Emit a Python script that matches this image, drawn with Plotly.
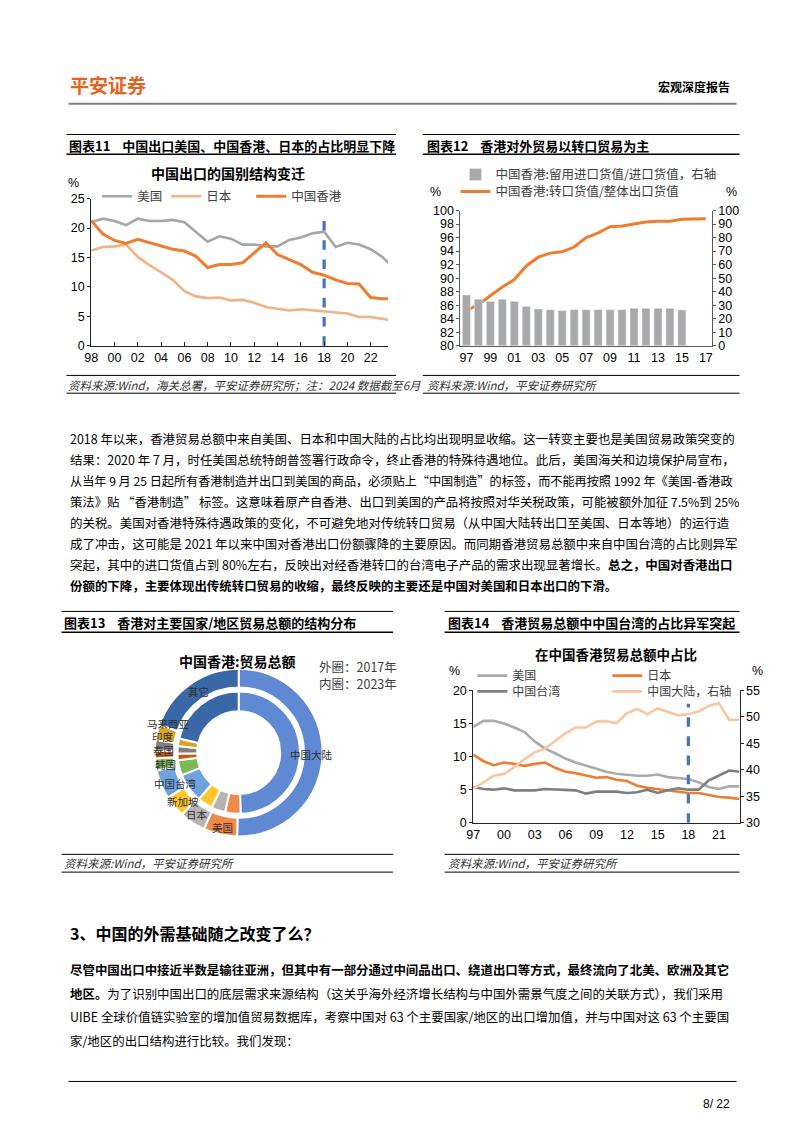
import plotly.graph_objects as go

# Page is 802x1133; the figure sits inside the default 8px body margin.
PAGE_W, PAGE_H, OFF = 802, 1133, 8
W, H = PAGE_W - 2 * OFF, PAGE_H - 2 * OFF
def X(p): return (p - OFF) / W
def Y(p): return 1 - (p - OFF) / H

# ---------------- Chart 11 data ----------------
years11 = [1998, 1999, 2000, 2001, 2002, 2003, 2004, 2005, 2006, 2007, 2008, 2009, 2010,
           2011, 2012, 2013, 2014, 2015, 2016, 2017, 2018, 2019, 2020, 2021, 2022, 2023, 2023.5]
us11 = [21.0, 21.6, 21.2, 20.5, 21.6, 21.2, 21.2, 21.4, 21.0, 19.4, 17.7, 18.6, 18.2, 17.2,
        17.2, 16.9, 16.9, 18.0, 18.4, 19.1, 19.4, 16.8, 17.5, 17.2, 16.4, 15.1, 14.1]
jp11 = [16.2, 16.8, 16.9, 17.2, 15.1, 13.7, 12.5, 11.2, 9.3, 8.4, 8.1, 8.2, 7.7, 7.8,
        7.3, 6.6, 6.3, 6.0, 6.2, 6.0, 5.9, 5.7, 5.5, 4.9, 4.9, 4.6, 4.4]
hk11 = [21.3, 19.0, 17.9, 17.4, 18.1, 17.5, 16.9, 16.4, 16.1, 15.2, 13.3, 13.8, 13.8, 14.1,
        15.8, 17.5, 15.5, 14.7, 13.8, 12.5, 12.0, 11.2, 10.6, 10.5, 8.2, 8.0, 8.0]
ticks11 = [1998, 2000, 2002, 2004, 2006, 2008, 2010, 2012, 2014, 2016, 2018, 2020, 2022]
ticktext11 = ["98", "00", "02", "04", "06", "08", "10", "12", "14", "16", "18", "20", "22"]
mark_year = 2018

# ---------------- Chart 12 data ----------------
cats12 = ["97", "98", "99", "00", "01", "02", "03", "04", "05", "06", "07", "08", "09",
          "10", "11", "12", "13", "14", "15", "16", "17"]
retained12 = [37.6, 34.5, 32.8, 34.5, 32.8, 29.1, 27.2, 26.7, 26.0, 26.7, 26.7, 26.7, 26.7,
              26.7, 27.7, 27.7, 27.7, 27.7, 26.5, None, None]
reexport12 = [85.2, 86.1, 87.4, 88.7, 89.8, 91.8, 93.1, 93.7, 93.9, 94.6, 96.0, 96.7, 97.6,
              97.7, 98.0, 98.3, 98.4, 98.4, 98.7, 98.7, 98.8]
ticks12 = ["97", "99", "01", "03", "05", "07", "09", "11", "13", "15", "17"]

# ---------------- Chart 13 data ----------------
partners13 = ["中国大陆", "美国", "日本", "新加坡", "中国台湾", "韩国", "泰国", "印度", "马来西亚", "其它"]
outer2017 = [50.3, 6.5, 5.0, 4.2, 5.6, 2.3, 1.5, 2.0, 3.0, 19.6]
inner2023 = [49.5, 4.1, 3.7, 4.0, 7.7, 4.0, 1.8, 1.9, 2.0, 21.3]
colors13 = ["#5F8AD3", "#F08A4B", "#B4B4B4", "#FFC72C", "#6FA3DC", "#7DB957",
            "#C55A11", "#7F7F7F", "#D9A520", "#3A67A8"]

# ---------------- Chart 14 data ----------------
years14 = [1997, 1998, 1999, 2000, 2001, 2002, 2003, 2004, 2005, 2006, 2007, 2008, 2009, 2010,
           2011, 2012, 2013, 2014, 2015, 2016, 2017, 2018, 2019, 2020, 2021, 2022, 2023]
us14 = [14.5, 15.4, 15.4, 15.0, 14.4, 13.7, 12.3, 11.2, 10.5, 9.7, 9.1, 8.6, 8.1, 7.7,
        7.4, 7.2, 7.1, 7.1, 7.3, 6.9, 6.7, 6.6, 6.1, 5.4, 5.1, 5.5, 5.5]
jp14 = [10.3, 9.3, 8.7, 9.1, 8.9, 8.6, 8.9, 9.1, 8.3, 7.7, 7.5, 7.2, 6.8, 6.9,
        6.5, 6.3, 5.6, 5.3, 5.1, 4.9, 4.7, 4.5, 4.5, 4.2, 3.9, 3.8, 3.6]
tw14 = [5.4, 5.1, 5.0, 5.2, 4.9, 4.9, 4.9, 5.1, 5.0, 5.0, 4.9, 4.4, 4.7, 4.7,
        4.7, 4.5, 4.6, 5.0, 4.5, 4.9, 5.2, 5.0, 5.0, 6.4, 7.1, 7.9, 7.7]
cn14 = [36.4, 37.6, 38.9, 39.2, 40.5, 42.0, 43.3, 44.0, 45.4, 46.9, 48.0, 48.0, 49.1, 49.2,
        48.8, 50.7, 51.5, 50.5, 51.6, 51.0, 50.3, 50.5, 51.0, 52.1, 52.6, 49.4, 49.5]
ticks14 = [1997, 2000, 2003, 2006, 2009, 2012, 2015, 2018, 2021]
ticktext14 = ["97", "00", "03", "06", "09", "12", "15", "18", "21"]

# ---------------- Styles ----------------
CJK = "Noto Sans CJK SC"
NUM = "Liberation Sans, Noto Sans CJK SC"
BLUE = "#4472C4"
ORANGE = "#ED7D31"

fig = go.Figure()

# Chart 11 traces
fig.add_trace(go.Scatter(x=years11, y=us11, name="美国", mode="lines",
                         line=dict(color="#A6A6A6", width=2.6), xaxis="x", yaxis="y", legend="legend"))
fig.add_trace(go.Scatter(x=years11, y=jp11, name="日本", mode="lines", legendwidth=40,
                         line=dict(color="#F4B183", width=2.6), xaxis="x", yaxis="y", legend="legend"))
fig.add_trace(go.Scatter(x=years11, y=hk11, name="中国香港", mode="lines", legendwidth=60,
                         line=dict(color=ORANGE, width=3), xaxis="x", yaxis="y", legend="legend"))
fig.add_trace(go.Scatter(x=[mark_year, mark_year], y=[0, 22.6], mode="lines", showlegend=False,
                         line=dict(color=BLUE, width=3.2, dash="dash"), xaxis="x", yaxis="y"))

# Chart 12 traces
fig.add_trace(go.Bar(x=cats12, y=retained12, name="中国香港:留用进口货值/进口货值，右轴",
                     marker=dict(color="#A9A9A9"), xaxis="x2", yaxis="y3", legend="legend2"))
fig.add_trace(go.Scatter(x=cats12, y=reexport12, name="中国香港:转口货值/整体出口货值", mode="lines",
                         line=dict(color=ORANGE, width=3), xaxis="x2", yaxis="y2", legend="legend3"))

# Chart 13 donut
R_OUT, R_IN = 85, 62
CX, CY = 234, 755
fig.add_trace(go.Pie(labels=partners13, values=outer2017, sort=False, direction="clockwise",
                     rotation=0, hole=66 / 85, textinfo="none", showlegend=False,
                     marker=dict(colors=colors13, line=dict(color="white", width=2)),
                     domain=dict(x=[X(CX - R_OUT), X(CX + R_OUT)], y=[Y(CY + R_OUT), Y(CY - R_OUT)])))
fig.add_trace(go.Pie(labels=partners13, values=inner2023, sort=False, direction="clockwise",
                     rotation=0, hole=42 / 62, textinfo="none", showlegend=False,
                     marker=dict(colors=colors13, line=dict(color="white", width=2)),
                     domain=dict(x=[X(CX - R_IN), X(CX + R_IN)], y=[Y(CY + R_IN), Y(CY - R_IN)])))

# Chart 14 traces
fig.add_trace(go.Scatter(x=years14, y=us14, name="美国", mode="lines",
                         line=dict(color="#ABABAB", width=2.6), xaxis="x3", yaxis="y4", legend="legend4"))
fig.add_trace(go.Scatter(x=years14, y=jp14, name="日本", mode="lines", legendwidth=60,
                         line=dict(color=ORANGE, width=2.6), xaxis="x3", yaxis="y4", legend="legend4"))
fig.add_trace(go.Scatter(x=years14, y=tw14, name="中国台湾", mode="lines",
                         line=dict(color="#7F7F7F", width=2.6), xaxis="x3", yaxis="y4", legend="legend5"))
fig.add_trace(go.Scatter(x=years14, y=cn14, name="中国大陆，右轴", mode="lines", legendwidth=96,
                         line=dict(color="#F8C6A2", width=2.6), xaxis="x3", yaxis="y5", legend="legend5"))
fig.add_trace(go.Scatter(x=[mark_year, mark_year], y=[0, 18], mode="lines", showlegend=False,
                         line=dict(color=BLUE, width=3.2, dash="dash"), xaxis="x3", yaxis="y4"))

tickfont = dict(family=NUM, size=12.5, color="#000000")

layout = dict(
    width=W, height=H, margin=dict(l=0, r=0, t=0, b=0),
    paper_bgcolor="white", plot_bgcolor="rgba(0,0,0,0)",
    font=dict(family=NUM, size=12, color="#000000"),
    bargap=0.33,
    # chart 11
    xaxis=dict(domain=[X(85), X(385)], range=[1998, 2023.5], tickvals=ticks11, ticktext=ticktext11,
               showline=True, linecolor="#262626", linewidth=1, ticks="inside", ticklen=4,
               tickcolor="#262626", showgrid=False, zeroline=False, tickfont=tickfont, anchor="y"),
    yaxis=dict(domain=[Y(343), Y(194)], range=[0, 25], dtick=5, showline=True, linecolor="#262626",
               linewidth=1, ticks="outside", ticklen=3, tickcolor="#262626", showgrid=False,
               zeroline=False, tickfont=tickfont, anchor="x"),
    # chart 12
    xaxis2=dict(domain=[X(458), X(712)], type="category", categoryorder="array", categoryarray=cats12,
                tickvals=ticks12, showline=True, linecolor="#595959", linewidth=1, ticks="",
                showgrid=False, zeroline=False, tickfont=tickfont, anchor="y2"),
    yaxis2=dict(domain=[Y(343), Y(206)], range=[80, 100], dtick=2, showline=True, linecolor="#595959",
                linewidth=1, ticks="outside", ticklen=3, tickcolor="#595959", showgrid=False,
                zeroline=False, tickfont=tickfont, anchor="x2"),
    yaxis3=dict(range=[0, 100], dtick=10, overlaying="y2", side="right", showline=True,
                linecolor="#595959", linewidth=1, ticks="outside", ticklen=3, tickcolor="#595959",
                showgrid=False, zeroline=False, tickfont=tickfont, anchor="x2"),
    # chart 14
    xaxis3=dict(domain=[X(471), X(740)], range=[1997, 2023], tickvals=ticks14, ticktext=ticktext14,
                showline=True, linecolor="#262626", linewidth=1, ticks="", showgrid=False,
                zeroline=False, tickfont=tickfont, anchor="y4"),
    yaxis4=dict(domain=[Y(826), Y(692)], range=[0, 20], dtick=5, showline=True, linecolor="#262626",
                linewidth=1, ticks="outside", ticklen=3, tickcolor="#262626", showgrid=False,
                zeroline=False, tickfont=tickfont, anchor="x3"),
    yaxis5=dict(range=[30, 55], dtick=5, overlaying="y4", side="right", showline=True,
                linecolor="#262626", linewidth=1, ticks="outside", ticklen=3, tickcolor="#262626",
                showgrid=False, zeroline=False, tickfont=tickfont, anchor="x3"),
)

legfont = dict(family=CJK, size=12.5, color="#404040")
legfont14 = dict(family=CJK, size=12, color="#404040")
layout["legend"] = dict(orientation="h", x=X(91), y=Y(192), xanchor="left", yanchor="middle",
                        entrywidth=24, entrywidthmode="pixels", font=legfont,
                        bgcolor="rgba(0,0,0,0)")
layout["legend2"] = dict(orientation="h", x=X(453), y=Y(170), xanchor="left", yanchor="middle",
                         font=legfont, bgcolor="rgba(0,0,0,0)")
layout["legend3"] = dict(orientation="h", x=X(453), y=Y(187), xanchor="left", yanchor="middle",
                         font=legfont, bgcolor="rgba(0,0,0,0)")
layout["legend4"] = dict(orientation="h", x=X(470), y=Y(677), xanchor="left", yanchor="middle",
                         entrywidth=90, entrywidthmode="pixels", font=legfont14, bgcolor="rgba(0,0,0,0)")
layout["legend5"] = dict(orientation="h", x=X(470), y=Y(693), xanchor="left", yanchor="middle",
                         entrywidth=90, entrywidthmode="pixels", font=legfont14, bgcolor="rgba(0,0,0,0)")

fig.update_layout(**layout)

ann = []
def text(x, y, s, size=13, color="#000000", anchor="left", family=CJK):
    ann.append(dict(x=X(x), y=Y(y), xref="paper", yref="paper", text=s, showarrow=False,
                    xanchor=anchor, yanchor="middle", font=dict(family=family, size=size, color=color)))

# header
text(62, 78, "<b>平安证券</b>", size=19, color="#E3631E")
text(732, 80, "<b>宏观深度报告</b>", size=12, anchor="right")

# section titles
text(61, 140, "<b>图表11    中国出口美国、中国香港、日本的占比明显下降</b>", size=13)
text(422, 140, "<b>图表12    香港对外贸易以转口贸易为主</b>", size=13)
text(55, 623, "<b>图表13    香港对主要国家/地区贸易总额的结构分布</b>", size=13)
text(443, 623, "<b>图表14    香港贸易总额中中国台湾的占比异军突起</b>", size=13)

# chart titles / units
text(223, 168, "<b>中国出口的国别结构变迁</b>", size=14, anchor="center")
text(67, 178, "%", size=12.5, anchor="center", family=NUM)
text(433, 187, "%", size=12.5, anchor="center", family=NUM)
text(732, 187, "%", size=12.5, anchor="center", family=NUM)
text(233, 662, "<b>中国香港:贸易总额</b>", size=14, anchor="center")
text(313, 668, "外圈：2017年", size=12.5, color="#404040")
text(313, 685, "内圈：2023年", size=12.5, color="#404040")
text(615, 655, "<b>在中国香港贸易总额中占比</b>", size=13.5, anchor="center")
text(452, 672, "%", size=12.5, anchor="center", family=NUM)
text(758, 672, "%", size=12.5, anchor="center", family=NUM)

# donut labels
for s, lx, ly in [("其它", 193, 693), ("马来西亚", 163, 725), ("印度", 158, 739), ("泰国", 158, 753),
                  ("韩国", 160, 767), ("中国台湾", 170, 786), ("新加坡", 178, 804), ("日本", 192, 818),
                  ("美国", 218, 831), ("中国大陆", 308, 757)]:
    text(lx, ly, s, size=10.5, color="#303030", anchor="center")

# sources
text(60, 383, "<i>资料来源:Wind，海关总署，平安证券研究所；注：2024 数据截至6月</i>", size=11.5, color="#333333")
text(422, 383, "<i>资料来源:Wind，平安证券研究所</i>", size=11.5, color="#333333")
text(55, 867, "<i>资料来源:Wind，平安证券研究所</i>", size=11.5, color="#333333")
text(443, 867, "<i>资料来源:Wind，平安证券研究所</i>", size=11.5, color="#333333")

# body paragraph 1
para1 = [
    "2018 年以来，香港贸易总额中来自美国、日本和中国大陆的占比均出现明显收缩。这一转变主要也是美国贸易政策突变的",
    "结果：2020 年 7 月，时任美国总统特朗普签署行政命令，终止香港的特殊待遇地位。此后，美国海关和边境保护局宣布，",
    "从当年 9 月 25 日起所有香港制造并出口到美国的商品，必须贴上“中国制造”的标签，而不能再按照 1992 年《美国-香港政",
    "策法》贴 “香港制造” 标签。这意味着原产自香港、出口到美国的产品将按照对华关税政策，可能被额外加征 7.5%到 25%",
    "的关税。美国对香港特殊待遇政策的变化，不可避免地对传统转口贸易（从中国大陆转出口至美国、日本等地）的运行造",
    "成了冲击，这可能是 2021 年以来中国对香港出口份额骤降的主要原因。而同期香港贸易总额中来自中国台湾的占比则异军",
    "突起，其中的进口货值占到 80%左右，反映出对经香港转口的台湾电子产品的需求出现显著增长。<b>总之，中国对香港出口</b>",
    "<b>份额的下降，主要体现出传统转口贸易的收缩，最终反映的主要还是中国对美国和日本出口的下滑。</b>",
]
sizes1 = [12.45, 12.45, 12.15, 12.35, 12.45, 12.45, 12.45, 12.45]
for i, s in enumerate(para1):
    text(62, 437 + 21.3 * i, s, size=sizes1[i])

text(62, 938, "<b>3、中国的外需基础随之改变了么？</b>", size=16)
para2 = [
    "<b>尽管中国出口中接近半数是输往亚洲，但其中有一部分通过中间品出口、绕道出口等方式，最终流向了北美、欧洲及其它</b>",
    "<b>地区。</b>为了识别中国出口的底层需求来源结构（这关乎海外经济增长结构与中国外需景气度之间的关联方式），我们采用",
    "UIBE 全球价值链实验室的增加值贸易数据库，考察中国对 63 个主要国家/地区的出口增加值，并与中国对这 63 个主要国",
    "家/地区的出口结构进行比较。我们发现：",
]
for i, s in enumerate(para2):
    text(62, 975 + 24 * i, s, size=12.45)

text(717, 1111, "8/ 22", size=12, anchor="center", family=NUM)

fig.update_layout(annotations=ann)

# decorative page rules
shapes = []
def hline(x0, x1, y, w=1, color="#000000"):
    shapes.append(dict(type="line", xref="paper", yref="paper", x0=X(x0), x1=X(x1), y0=Y(y), y1=Y(y),
                       line=dict(color=color, width=w)))
hline(62, 737, 98, 2, "#808080")
for (a, b) in [(60, 393), (420, 740)]:
    hline(a, b, 129, 1)
    hline(a, b, 149, 1.5)
    hline(a, b, 373, 1)
    hline(a, b, 391, 1)
for (a, b) in [(55, 390), (442, 740)]:
    hline(a, b, 612, 1)
    hline(a, b, 633, 1.5)
    hline(a, b, 858, 1)
    hline(a, b, 876, 1)
hline(62, 737, 1088, 1)
fig.update_layout(shapes=shapes)

fig.write_html("out.html", config={"displayModeBar": False})
